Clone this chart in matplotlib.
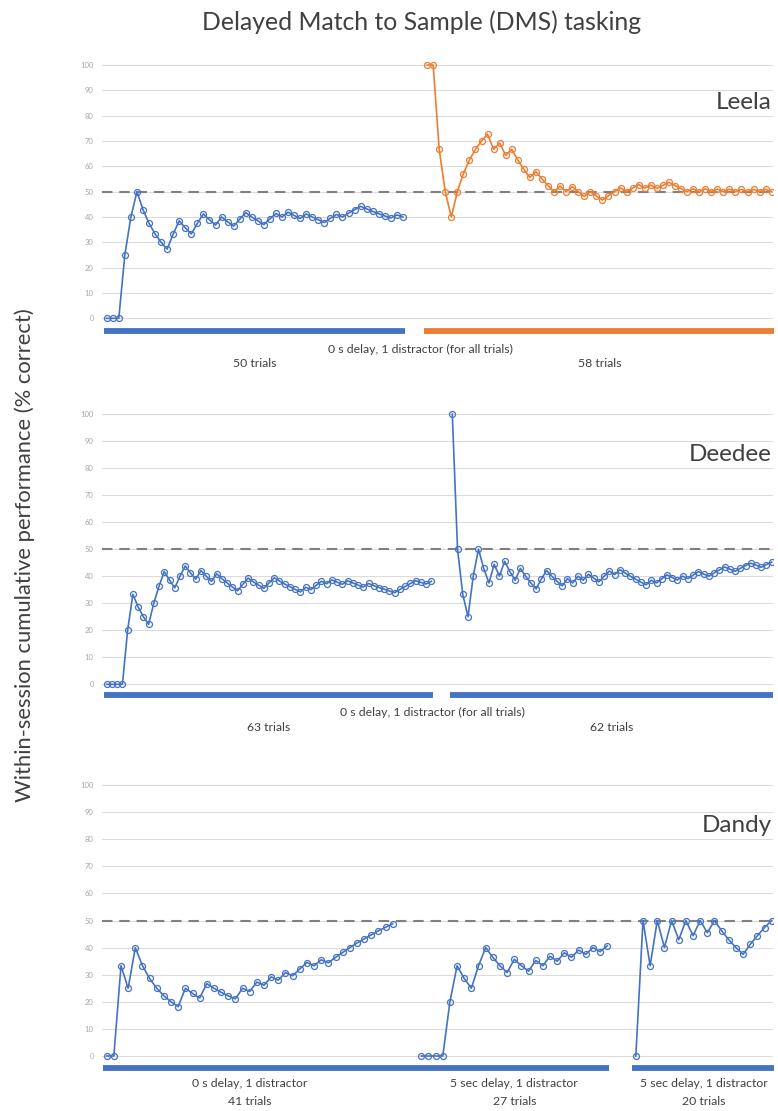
# Delayed Match to Sample (DMS) tasking - cumulative performance per session
import numpy as np
import matplotlib
matplotlib.use("Agg")
import matplotlib.pyplot as plt

plt.rcParams['font.family'] = ['Lato', 'DejaVu Sans']

BLUE = '#4472C4'
ORANGE = '#ED7D31'
TEXT = '#404040'

# within-session cumulative % correct, one list per session
leela_s1 = [0, 0, 0, 25, 40, 50, 42.9, 37.5, 33.3, 30, 27.3, 33.3, 38.5, 35.7, 33.3, 37.5, 41.2,
            38.9, 36.8, 40, 38.1, 36.4, 39.1, 41.7, 40, 38.5, 37, 39.3, 41.4, 40, 41.9, 40.6, 39.4,
            41.2, 40, 38.9, 37.8, 39.5, 41, 40, 41.5, 42.9, 44.2, 43.2, 42.2, 41.3, 40.4, 39.6, 40.8, 40]
leela_s2 = [100, 100, 66.7, 50, 40, 50, 57.1, 62.5, 66.7, 70, 72.7, 66.7, 69.2, 64.3, 66.7, 62.5,
            58.8, 55.6, 57.9, 55, 52.4, 50, 52.2, 50, 52, 50, 48.1, 50, 48.3, 46.7, 48.4, 50, 51.5,
            50, 51.4, 52.8, 51.4, 52.6, 51.3, 52.5, 53.7, 52.4, 51.2, 50, 51.1, 50, 51.1, 50, 51, 50,
            51, 50, 50.9, 50, 50.9, 50, 50.9, 50]
deedee_s1 = [0, 0, 0, 0, 20, 33.3, 28.6, 25, 22.2, 30, 36.4, 41.7, 38.5, 35.7, 40, 43.8, 41.2, 38.9,
             42.1, 40, 38.1, 40.9, 39.1, 37.5, 36, 34.6, 37, 39.3, 37.9, 36.7, 35.5, 37.5, 39.4, 38.2,
             37.1, 36.1, 35.1, 34.2, 35.9, 35, 36.6, 38.1, 37.2, 38.6, 37.8, 37, 38.3, 37.5, 36.7, 36,
             37.3, 36.5, 35.8, 35.2, 34.5, 33.9, 35.1, 36.2, 37.3, 38.3, 37.7, 37.1, 38.1]
deedee_s2 = [100, 50, 33.3, 25, 40, 50, 42.9, 37.5, 44.4, 40, 45.5, 41.7, 38.5, 42.9, 40, 37.5, 35.3,
             38.9, 42.1, 40, 38.1, 36.4, 39.1, 37.5, 40, 38.5, 40.7, 39.3, 37.9, 40, 41.9, 40.6, 42.4,
             41.2, 40, 38.9, 37.8, 36.8, 38.5, 37.5, 39, 40.5, 39.5, 38.6, 40, 39.1, 40.4, 41.7, 40.8,
             40, 41.2, 42.3, 43.4, 42.6, 41.8, 42.9, 43.9, 44.8, 44.1, 43.3, 44.3, 45.2]
dandy_s1 = [0, 0, 33.3, 25, 40, 33.3, 28.6, 25, 22.2, 20, 18.2, 25, 23.1, 21.4, 26.7, 25, 23.5, 22.2,
            21.1, 25, 23.8, 27.3, 26.1, 29.2, 28, 30.8, 29.6, 32.1, 34.5, 33.3, 35.5, 34.4, 36.4, 38.2,
            40, 41.7, 43.2, 44.7, 46.2, 47.5, 48.8]
dandy_s2 = [0, 0, 0, 0, 20, 33.3, 28.6, 25, 33.3, 40, 36.4, 33.3, 30.8, 35.7, 33.3, 31.3, 35.3, 33.3,
            36.8, 35, 38.1, 36.4, 39.1, 37.5, 40, 38.5, 40.7]
dandy_s3 = [0, 50, 33.3, 50, 40, 50, 42.9, 50, 44.4, 50, 45.5, 50, 46.2, 42.9, 40, 37.5, 41.2, 44.4,
            47.4, 50]

names = ["Leela", "Deedee", "Dandy"]
sessions = [[leela_s1, leela_s2], [deedee_s1, deedee_s2], [dandy_s1, dandy_s2, dandy_s3]]
session_colors = [[BLUE, ORANGE], [BLUE, BLUE], [BLUE, BLUE, BLUE]]
bar_groups = [[[0], [1]], [[0], [1]], [[0, 1], [2]]]
session_labels = [["50 trials", "58 trials"],
                  ["63 trials", "62 trials"],
                  ["0 s delay, 1 distractor\n41 trials",
                   "5 sec delay, 1 distractor\n27 trials",
                   "5 sec delay, 1 distractor\n20 trials"]]
shared_labels = ["0 s delay, 1 distractor (for all trials)",
                 "0 s delay, 1 distractor (for all trials)", None]

CHANCE = 50
GAP = 3  # empty category slots between sessions
Y_TICKS = list(range(0, 101, 10))

# layout (pixels of a 778x1111 figure)
W, H = 778, 1111
AX_LEFT, AX_RIGHT = 102, 773
PAD_L, PAD_R = 4.7, 1.3
YLIM = (-8, 102)
zero_px = [318.3, 684.3, 1056.0]
hundred_px = [65.0, 414.0, 785.0]
bar_y = [-5.2, -4.1, -4.3]
shared_y = [-12.5, -10.6, None]
label_y = [-18.0, -16.1, -13.6]
shared_xfrac = [0.474, 0.493, None]
LABEL_FS = 8.8


def session_positions(sess):
  xs = []
  start = 0
  for s in sess:
    xs.append(np.arange(start, start + len(s)))
    start += len(s) + GAP
  return xs


fig = plt.figure(figsize=(W / 100, H / 100), dpi=100)

for i, name in enumerate(names):
  ppu = (zero_px[i] - hundred_px[i]) / 100.0
  top = hundred_px[i] - (YLIM[1] - 100) * ppu
  bot = zero_px[i] - YLIM[0] * ppu
  ax = fig.add_axes([AX_LEFT / W, 1 - bot / H, (AX_RIGHT - AX_LEFT) / W, (bot - top) / H])

  xs = session_positions(sessions[i])
  last = xs[-1][-1]
  step = (771.7 - 106.7) / last
  ax.set_xlim(-PAD_L / step, last + PAD_R / step)
  ax.set_ylim(*YLIM)

  ax.set_yticks(Y_TICKS)
  ax.set_yticklabels([str(t) for t in Y_TICKS], fontsize=5.5, color='#a6a6a6')
  ax.tick_params(axis='y', length=0, pad=6)
  ax.set_xticks([])
  ax.yaxis.grid(True, color='#dcdcdc', linewidth=0.8)
  ax.set_axisbelow(True)
  for sp in ax.spines.values():
    sp.set_visible(False)

  ax.axhline(CHANCE, color='#808080', linewidth=1.5, linestyle=(0, (5, 3.3)), zorder=1)

  for x, y, c in zip(xs, sessions[i], session_colors[i]):
    ax.plot(x, y, color=c, linewidth=1.2, marker='o', markersize=4.3,
            markerfacecolor='none', markeredgewidth=0.9, zorder=3)

  # session bars under the axis
  for grp in bar_groups[i]:
    x0 = xs[grp[0]][0] - 0.5
    x1 = xs[grp[-1]][-1] + 0.3
    ax.plot([x0, x1], [bar_y[i], bar_y[i]], color=session_colors[i][grp[0]],
            linewidth=4.2, solid_capstyle='butt', clip_on=False)

  for x, lab in zip(xs, session_labels[i]):
    ax.text((x[0] + x[-1]) / 2.0, label_y[i], lab, ha='center', va='center',
            fontsize=LABEL_FS, color=TEXT, linespacing=1.8)

  if shared_labels[i]:
    ax.text(shared_xfrac[i], shared_y[i], shared_labels[i], transform=ax.get_yaxis_transform(),
            ha='center', va='center', fontsize=LABEL_FS, color=TEXT)

  ax.text(0.998, 85, name, transform=ax.get_yaxis_transform(), ha='right', va='center',
          fontsize=17.5, color=TEXT)

fig.text(422 / W, 1 - 22 / H, "Delayed Match to Sample (DMS) tasking", ha='center', va='center',
         fontsize=17.8, color=TEXT)
fig.text(25 / W, 1 - 555 / H, "Within-session cumulative performance (% correct)", rotation=90,
         ha='center', va='center', fontsize=15.8, color=TEXT)

fig.savefig("out.png", dpi=100)
plt.close()
